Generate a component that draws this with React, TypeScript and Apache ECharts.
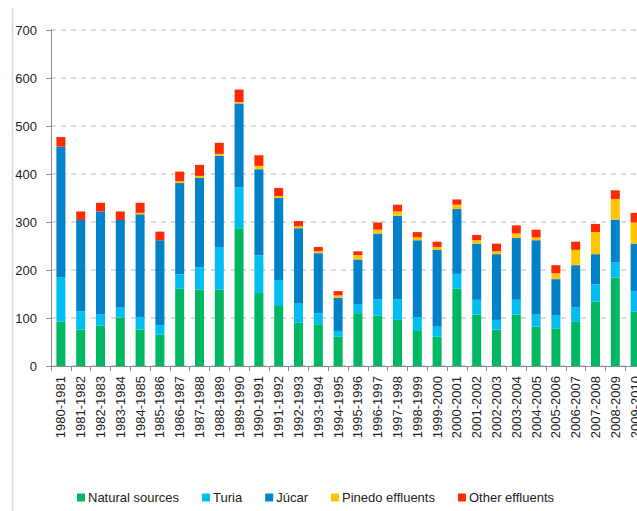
import React, { useEffect, useRef } from "react";
import * as echarts from "echarts";

const categories = [
  "1980-1981", "1981-1982", "1982-1983", "1983-1984", "1984-1985", "1985-1986",
  "1986-1987", "1987-1988", "1988-1989", "1989-1990", "1990-1991", "1991-1992",
  "1992-1993", "1993-1994", "1994-1995", "1995-1996", "1996-1997", "1997-1998",
  "1998-1999", "1999-2000", "2000-2001", "2001-2002", "2002-2003", "2003-2004",
  "2004-2005", "2005-2006", "2006-2007", "2007-2008", "2008-2009", "2009-2010",
];

const naturalSources = [92, 76, 84, 101, 76, 65, 161, 159, 159, 287, 152, 125, 90, 87, 61, 110, 105, 96, 73, 61, 161, 107, 76, 107, 82, 78, 92, 134, 184, 113];
const turia = [93, 38, 24, 21, 26, 20, 30, 47, 89, 85, 78, 54, 40, 23, 12, 19, 34, 43, 29, 21, 31, 31, 20, 31, 25, 27, 30, 36, 32, 43];
const jucar = [272, 190, 214, 182, 214, 177, 190, 186, 190, 175, 180, 171, 157, 125, 69, 93, 137, 174, 160, 160, 135, 117, 137, 129, 155, 76, 88, 63, 89, 99];
const pinedo = [0, 0, 0, 0, 3, 0, 4, 4, 4, 3, 7, 4, 4, 4, 5, 9, 8, 9, 6, 6, 9, 7, 6, 9, 6, 12, 32, 46, 43, 44];
const otherEffluents = [20, 18, 18, 18, 21, 18, 20, 23, 23, 26, 22, 17, 11, 9, 9, 8, 15, 14, 11, 11, 11, 11, 16, 17, 16, 17, 17, 17, 18, 20];

const yTicks = { min: 0, max: 700, interval: 100 };

const seriesDefs = [
  { name: "Natural sources", data: naturalSources, color: "#00B862" },
  { name: "Turia", data: turia, color: "#00BDF2" },
  { name: "Júcar", data: jucar, color: "#0081C9" },
  { name: "Pinedo effluents", data: pinedo, color: "#FFC600" },
  { name: "Other effluents", data: otherEffluents, color: "#FF2B00" },
];

const FONT = "Liberation Sans";
const INNER_W = 664;

export default function App() {
  const ref = useRef<HTMLDivElement>(null);
  useEffect(() => {
    if (!ref.current) return;
    const chart = echarts.init(ref.current, null, { renderer: "svg" });
    chart.setOption({
      animation: false,
      backgroundColor: "#ffffff",
      textStyle: { fontFamily: FONT },
      grid: { left: 51, right: INNER_W - 645, top: 30, bottom: 145, containLabel: false },
      graphic: [
        {
          type: "line",
          shape: { x1: 12.5, y1: 8, x2: 12.5, y2: 511 },
          style: { stroke: "#d9d9d9", lineWidth: 1.5 },
          silent: true,
        },
      ],
      legend: {
        left: 72,
        top: 486,
        icon: "rect",
        itemWidth: 8,
        itemHeight: 8,
        itemGap: 23,
        textStyle: { fontFamily: FONT, fontSize: 13, color: "#222", padding: [0, 0, 0, -2] },
        data: seriesDefs.map((s) => s.name),
      },
      xAxis: {
        type: "category",
        data: categories,
        boundaryGap: true,
        axisLine: { lineStyle: { color: "#8c8c8c", width: 1 } },
        axisTick: { show: true, length: 5, lineStyle: { color: "#8c8c8c" } },
        axisLabel: {
          rotate: 90,
          margin: 10,
          interval: 0,
          fontFamily: FONT,
          fontSize: 13,
          color: "#222",
        },
      },
      yAxis: {
        type: "value",
        min: yTicks.min,
        max: yTicks.max,
        interval: yTicks.interval,
        axisLine: { show: true, lineStyle: { color: "#8c8c8c", width: 1 } },
        axisTick: { show: true, length: 5, lineStyle: { color: "#8c8c8c" } },
        axisLabel: { fontFamily: FONT, fontSize: 13, color: "#222", margin: 14 },
        splitLine: {
          show: true,
          lineStyle: { color: "#cfcfcf", type: [5, 5], width: 1.5 },
        },
      },
      series: seriesDefs.map((s) => ({
        name: s.name,
        type: "bar",
        stack: "total",
        barWidth: 9,
        data: s.data,
        itemStyle: { color: s.color },
      })),
    });
    return () => chart.dispose();
  }, []);
  return (
    <div
      style={{
        position: "absolute",
        left: 0,
        top: 0,
        width: 637,
        height: 511,
        overflow: "hidden",
        background: "#ffffff",
      }}
    >
      <div ref={ref} style={{ width: INNER_W, height: 511 }} />
    </div>
  );
}
